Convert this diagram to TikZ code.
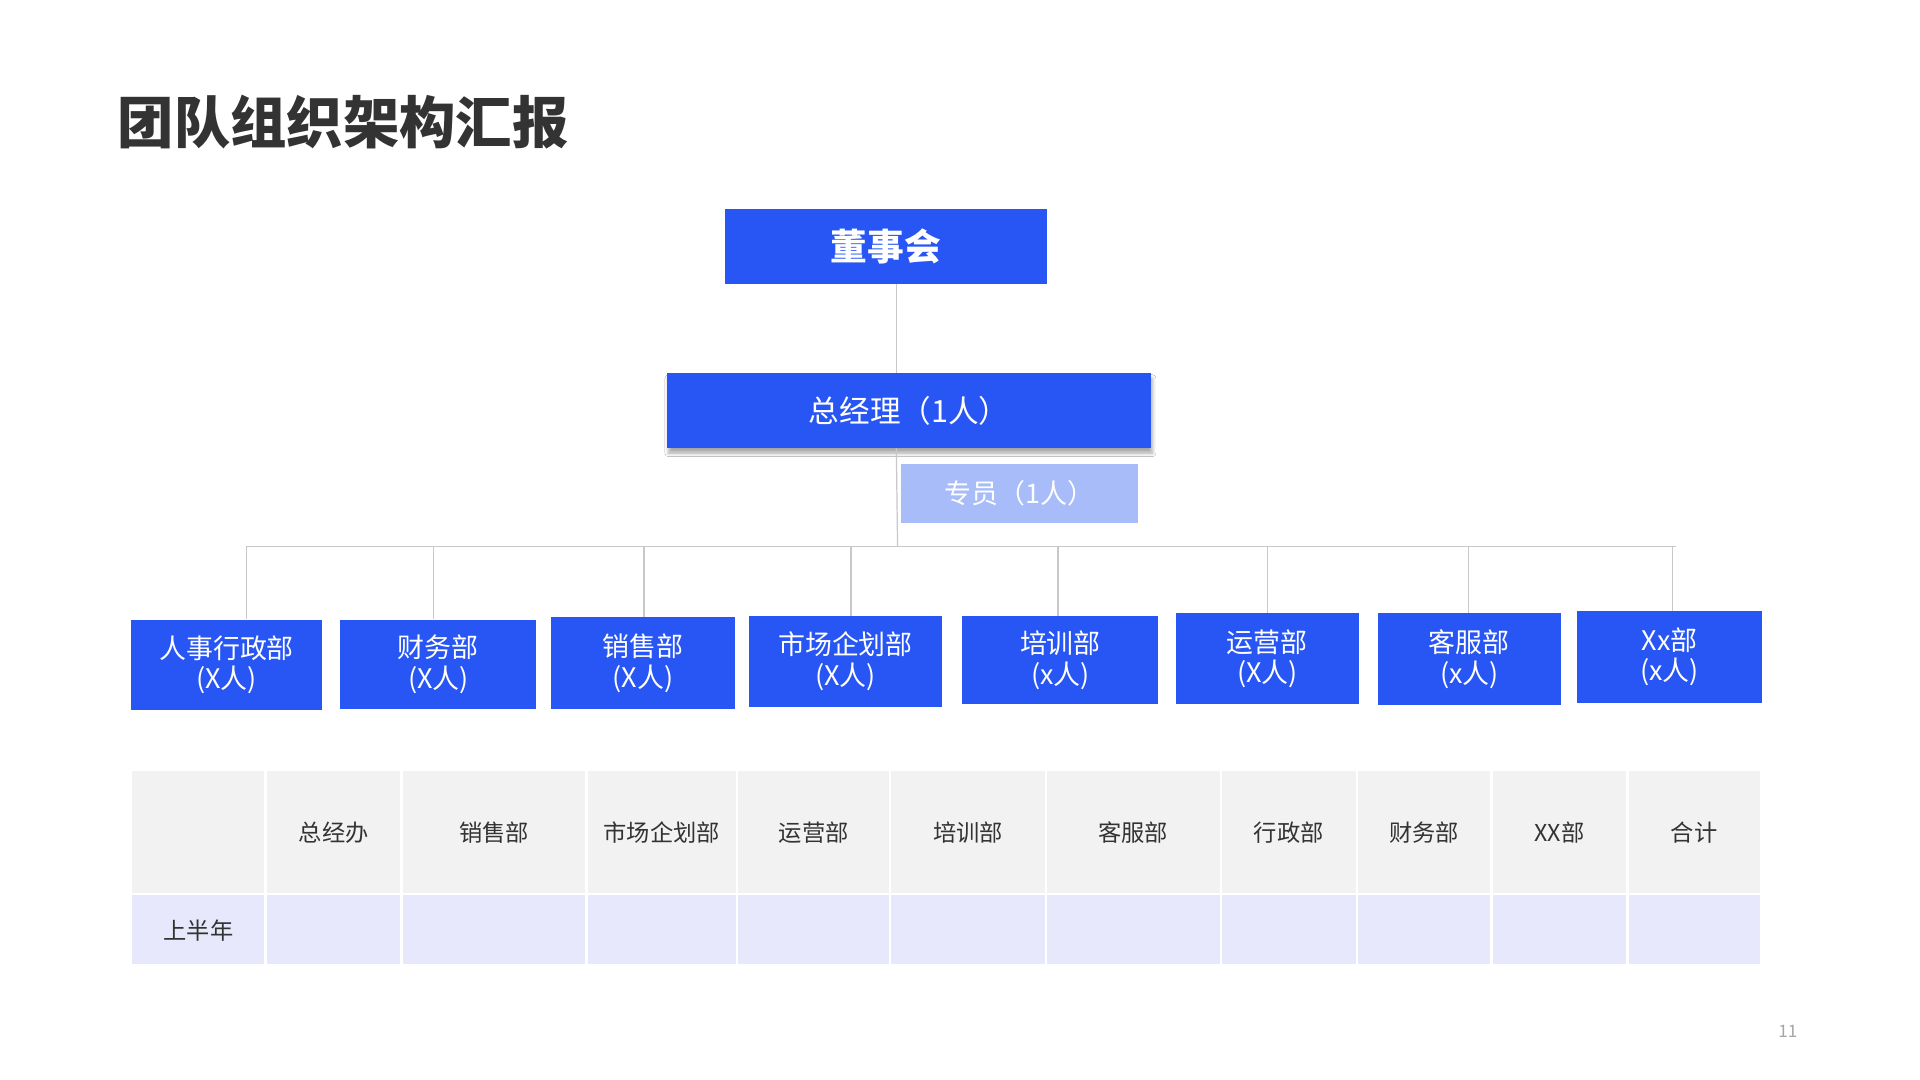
\documentclass[tikz,border=0pt]{standalone}
\usepackage{fontspec}
\setmainfont{Noto Sans CJK SC}
\usetikzlibrary{shadows.blur}
\definecolor{mainblue}{HTML}{2856F4}
\definecolor{lightblue}{HTML}{A7BCF8}
\definecolor{linegray}{HTML}{C8C8C8}
\definecolor{titlegray}{HTML}{333333}
\definecolor{headgray}{HTML}{F2F2F2}
\definecolor{rowlav}{HTML}{E7E8FB}
\tikzset{
  bluebox/.style={fill=mainblue, text=white, inner sep=0pt, align=center},
  deptbox/.style={bluebox, font=\fontsize{22}{25}\selectfont},
  conn/.style={draw=linegray, line width=1pt},
}
\begin{document}
\begin{tikzpicture}[x=1pt,y=-1pt]
\useasboundingbox[fill=white] (0,0) rectangle (1568,882);

% title
\node[anchor=west, inner sep=0pt, text=titlegray, font=\fontsize{46}{50}\selectfont\bfseries] (title) at (96,100) {团队组织架构汇报};

% top boxes
\node[bluebox, minimum width=263pt, minimum height=61pt, font=\fontsize{30}{34}\selectfont\bfseries] (dsh) at (723.5,201.5) {\raisebox{2pt}{董事会}};
\node[bluebox, minimum width=395pt, minimum height=61pt, font=\fontsize{25}{30}\selectfont,
  blur shadow={shadow xshift=1pt, shadow yshift=-4pt, shadow blur radius=3pt, shadow opacity=35}] (zjl) at (742.5,335.5) {\raisebox{3pt}{总经理（1人）}};
\node[fill=lightblue, text=white, inner sep=0pt, minimum width=193pt, minimum height=48pt, font=\fontsize{22}{26}\selectfont] (zy) at (832.5,403) {专员（1人）};

% trunk
\coordinate (t1) at (732,232);
\coordinate (bus) at (733,446);

% departments
\node[deptbox, minimum width=156pt, minimum height=74pt] (d1) at (185,543) {人事行政部\\(X人)};
\node[deptbox, minimum width=160pt, minimum height=73pt] (d2) at (358,542.5) {财务部\\(X人)};
\node[deptbox, minimum width=150pt, minimum height=75pt] (d3) at (525,541.5) {销售部\\(X人)};
\node[deptbox, minimum width=157pt, minimum height=74pt] (d4) at (690.5,540) {市场企划部\\(X人)};
\node[deptbox, minimum width=160pt, minimum height=72pt] (d5) at (866,539) {培训部\\(x人)};
\node[deptbox, minimum width=150pt, minimum height=74pt] (d6) at (1035,538) {运营部\\(X人)};
\node[deptbox, minimum width=150pt, minimum height=75pt] (d7) at (1200,538.5) {客服部\\(x人)};
\node[deptbox, minimum width=151pt, minimum height=75pt] (d8) at (1363.5,536.5) {Xx部\\(x人)};

% bus coordinates
\coordinate (b1) at (201,446);
\coordinate (b2) at (354,446);
\coordinate (b3) at (526,446);
\coordinate (b4) at (695,446);
\coordinate (b5) at (864,446);
\coordinate (b6) at (1035,446);
\coordinate (b7) at (1199,446);
\coordinate (b8) at (1366,446);
\coordinate (bend) at (1369,446);

% connectors
\draw[conn] (t1) -- (t1 |- zjl.north);
\draw[conn] (t1 |- zjl.south) -- (bus);
\draw[conn] (b1) -- (bend);
\draw[conn] (b1) -- (b1 |- d1.north);
\draw[conn] (b2) -- (b2 |- d2.north);
\draw[conn] (b3) -- (b3 |- d3.north);
\draw[conn] (b4) -- (b4 |- d4.north);
\draw[conn] (b5) -- (b5 |- d5.north);
\draw[conn] (b6) -- (b6 |- d6.north);
\draw[conn] (b7) -- (b7 |- d7.north);
\draw[conn] (b8) -- (b8 |- d8.north);

% table
\def\ytop{630}\def\ymid{730}\def\ybot{787}
\foreach \xa/\xb/\txt [count=\i] in {107/217/{}, 217/328/总经办, 328/479/销售部, 479/602/市场企划部, 602/727/运营部, 727/854/培训部, 854/997/客服部, 997/1108/行政部, 1108/1218/财务部, 1218/1329/XX部, 1329/1438/合计}{
  \fill[headgray] (\xa+1,\ytop) rectangle (\xb-1,\ymid-1);
  \fill[rowlav] (\xa+1,\ymid+1) rectangle (\xb-1,\ybot);
  \node[text=titlegray, inner sep=0pt, font=\fontsize{19}{22}\selectfont] (h\i) at ({(\xa+\xb)/2},680) {\txt};
}
\node[text=titlegray, inner sep=0pt, font=\fontsize{19}{22}\selectfont] (r1) at (162,760) {上半年};

% page number
\node[text=gray!70, inner sep=0pt, font=\fontsize{14}{16}\selectfont] (pg) at (1460,842) {11};
\end{tikzpicture}
\end{document}
